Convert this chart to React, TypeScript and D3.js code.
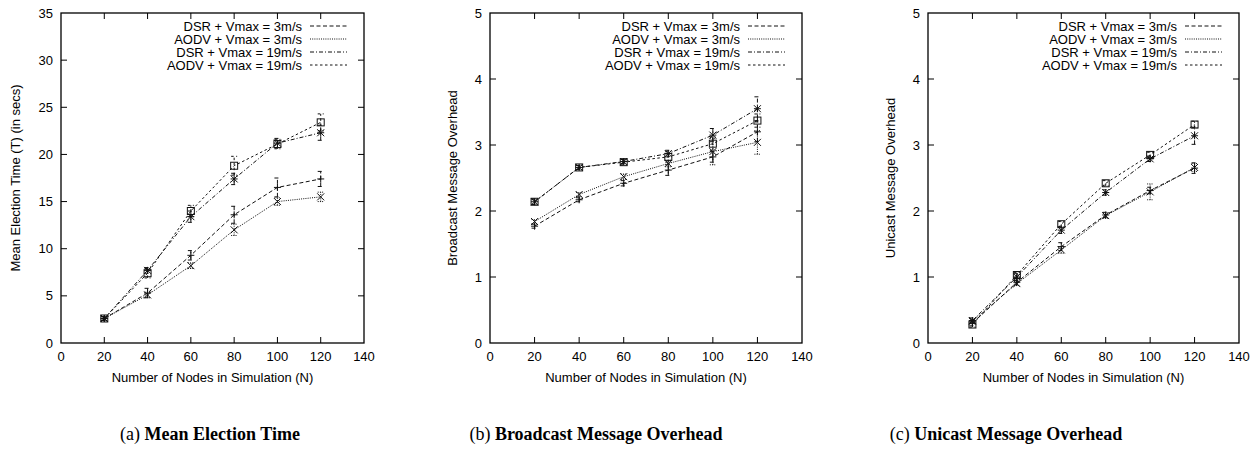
import React from "react";
import * as d3 from "d3";

// node counts on x
const nodes = [20, 40, 60, 80, 100, 120];
const seriesNames = [
  "DSR + Vmax = 3m/s",
  "AODV + Vmax = 3m/s",
  "DSR + Vmax = 19m/s",
  "AODV + Vmax = 19m/s",
];

// (a) mean election time
const electionDsr3 = [2.6, 5.3, 9.3, 13.6, 16.5, 17.4];
const electionAodv3 = [2.6, 5.1, 8.2, 12.0, 15.0, 15.5];
const electionDsr19 = [2.6, 7.7, 13.4, 17.4, 21.2, 22.3];
const electionAodv19 = [2.6, 7.4, 14.0, 18.8, 21.1, 23.4];
const electionDsr3Err = [0.2, 0.5, 0.5, 0.9, 1.0, 0.8];
const electionAodv3Err = [0.2, 0.3, 0.3, 0.6, 0.4, 0.5];
const electionDsr19Err = [0.2, 0.3, 0.6, 0.6, 0.5, 0.8];
const electionAodv19Err = [0.2, 0.5, 0.6, 1.0, 0.5, 0.9];

// (b) broadcast overhead
const broadDsr3 = [1.77, 2.17, 2.42, 2.62, 2.82, 3.2];
const broadAodv3 = [1.84, 2.25, 2.52, 2.72, 2.9, 3.04];
const broadDsr19 = [2.14, 2.66, 2.75, 2.87, 3.15, 3.55];
const broadAodv19 = [2.14, 2.66, 2.74, 2.82, 3.02, 3.37];
const broadDsr3Err = [0.03, 0.03, 0.04, 0.08, 0.08, 0.15];
const broadAodv3Err = [0.03, 0.03, 0.04, 0.05, 0.2, 0.18];
const broadDsr19Err = [0.04, 0.03, 0.03, 0.05, 0.1, 0.18];
const broadAodv19Err = [0.04, 0.03, 0.04, 0.08, 0.1, 0.1];

// (c) unicast overhead
const uniDsr3 = [0.3, 0.92, 1.46, 1.94, 2.31, 2.65];
const uniAodv3 = [0.33, 0.9, 1.41, 1.93, 2.29, 2.66];
const uniDsr19 = [0.34, 1.0, 1.71, 2.28, 2.79, 3.14];
const uniAodv19 = [0.28, 1.03, 1.8, 2.42, 2.85, 3.31];
const uniDsr3Err = [0.04, 0.03, 0.06, 0.04, 0.05, 0.08];
const uniAodv3Err = [0.04, 0.03, 0.05, 0.04, 0.12, 0.06];
const uniDsr19Err = [0.04, 0.05, 0.05, 0.04, 0.04, 0.13];
const uniAodv19Err = [0.04, 0.04, 0.04, 0.04, 0.04, 0.05];

const xTicks = [0, 20, 40, 60, 80, 100, 120, 140];
const electionTicks = [0, 5, 10, 15, 20, 25, 30, 35];
const overheadTicks = [0, 1, 2, 3, 4, 5];

const dashes = ["4,2.5", "1,1.2", "4,2,1,2", "2.5,2.5"];
const markers = ["plus", "cross", "star", "square"];

const sans = "'Liberation Sans', Arial, Helvetica, sans-serif";
const serif = "'Liberation Serif', 'Times New Roman', serif";

const Marker = ({ kind, x, y }) => {
  const s = 3.5;
  const plus = `M${x - s},${y}H${x + s}M${x},${y - s}V${y + s}`;
  const cross = `M${x - s},${y - s}L${x + s},${y + s}M${x - s},${y + s}L${x + s},${y - s}`;
  if (kind === "square")
    return <rect x={x - s} y={y - s} width={2 * s} height={2 * s} fill="none" stroke="#111" strokeWidth={1} />;
  const d = kind === "plus" ? plus : kind === "cross" ? cross : plus + cross;
  return <path d={d} stroke="#111" strokeWidth={1} fill="none" />;
};

const Panel = ({ x0, x1, yMax, yTicks, yLabel, yLabelX, series, errors }) => {
  const top = 13;
  const bottom = 343;
  const x = d3.scaleLinear().domain([0, 140]).range([x0, x1]);
  const y = d3.scaleLinear().domain([0, yMax]).range([bottom, top]);
  const line = d3.line<number>().x((d, i) => x(nodes[i])).y(d => y(d));
  const tk = 6;
  return (
    <g>
      {xTicks.map(t => (
        <g key={"x" + t}>
          {t > 0 && t < 140 && (
            <path d={`M${x(t)},${bottom}V${bottom - tk}M${x(t)},${top}V${top + tk}`} stroke="#000" />
          )}
          <text x={x(t)} y={356} textAnchor="middle" dominantBaseline="central" fontSize={13} fontFamily={sans}>
            {t}
          </text>
        </g>
      ))}
      {yTicks.map(t => (
        <g key={"y" + t}>
          {t > 0 && t < yMax && (
            <path d={`M${x0},${y(t)}H${x0 + tk}M${x1},${y(t)}H${x1 - tk}`} stroke="#000" />
          )}
          <text x={x0 - 8} y={y(t)} textAnchor="end" dominantBaseline="central" fontSize={13} fontFamily={sans}>
            {t}
          </text>
        </g>
      ))}
      <rect x={x0} y={top} width={x1 - x0} height={bottom - top} fill="none" stroke="#000" strokeWidth={1.3} />
      <text x={(x0 + x1) / 2} y={377} textAnchor="middle" dominantBaseline="central" fontSize={13} fontFamily={sans}>
        Number of Nodes in Simulation (N)
      </text>
      <text
        transform={`translate(${yLabelX},${(top + bottom) / 2}) rotate(-90)`}
        textAnchor="middle"
        dominantBaseline="central"
        fontSize={13}
        fontFamily={sans}
      >
        {yLabel}
      </text>
      {seriesNames.map((name, k) => {
        const ly = 26 + k * 13;
        return (
          <g key={name}>
            <text x={x1 - 62} y={ly} textAnchor="end" dominantBaseline="central" fontSize={13} fontFamily={sans}>
              {name}
            </text>
            <path d={`M${x1 - 54},${ly}H${x1 - 17}`} stroke="#111" strokeDasharray={dashes[k]} />
          </g>
        );
      })}
      {series.map((vals, k) => (
        <g key={"s" + k}>
          <path d={line(vals)} fill="none" stroke="#111" strokeWidth={1} strokeDasharray={dashes[k]} />
          {vals.map((v, i) => {
            const px = x(nodes[i]);
            const e = errors[k][i];
            return (
              <g key={i}>
                <path
                  d={`M${px},${y(v - e)}V${y(v + e)}M${px - 3},${y(v - e)}H${px + 3}M${px - 3},${y(v + e)}H${px + 3}`}
                  stroke="#111"
                  strokeWidth={1}
                  strokeDasharray={dashes[k]}
                />
                <Marker kind={markers[k]} x={px} y={y(v)} />
              </g>
            );
          })}
        </g>
      ))}
    </g>
  );
};

const Caption = ({ cx, tag, title }) => (
  <text x={cx} y={440} textAnchor="middle" fontSize={18} fontFamily={serif}>
    {tag} <tspan fontWeight="bold">{title}</tspan>
  </text>
);

export default function App() {
  return (
    <svg width={1260} height={451} style={{ position: "absolute", left: 0, top: 0, background: "#fff" }}>
      <Panel
        x0={61}
        x1={364}
        yMax={35}
        yTicks={electionTicks}
        yLabel="Mean Election Time (T) (in secs)"
        yLabelX={15}
        series={[electionDsr3, electionAodv3, electionDsr19, electionAodv19]}
        errors={[electionDsr3Err, electionAodv3Err, electionDsr19Err, electionAodv19Err]}
      />
      <Panel
        x0={490}
        x1={802}
        yMax={5}
        yTicks={overheadTicks}
        yLabel="Broadcast Message Overhead"
        yLabelX={452}
        series={[broadDsr3, broadAodv3, broadDsr19, broadAodv19]}
        errors={[broadDsr3Err, broadAodv3Err, broadDsr19Err, broadAodv19Err]}
      />
      <Panel
        x0={928}
        x1={1239}
        yMax={5}
        yTicks={overheadTicks}
        yLabel="Unicast Message Overhead"
        yLabelX={890}
        series={[uniDsr3, uniAodv3, uniDsr19, uniAodv19]}
        errors={[uniDsr3Err, uniAodv3Err, uniDsr19Err, uniAodv19Err]}
      />
      <Caption cx={210} tag="(a)" title="Mean Election Time" />
      <Caption cx={596} tag="(b)" title="Broadcast Message Overhead" />
      <Caption cx={1006} tag="(c)" title="Unicast Message Overhead" />
    </svg>
  );
}
